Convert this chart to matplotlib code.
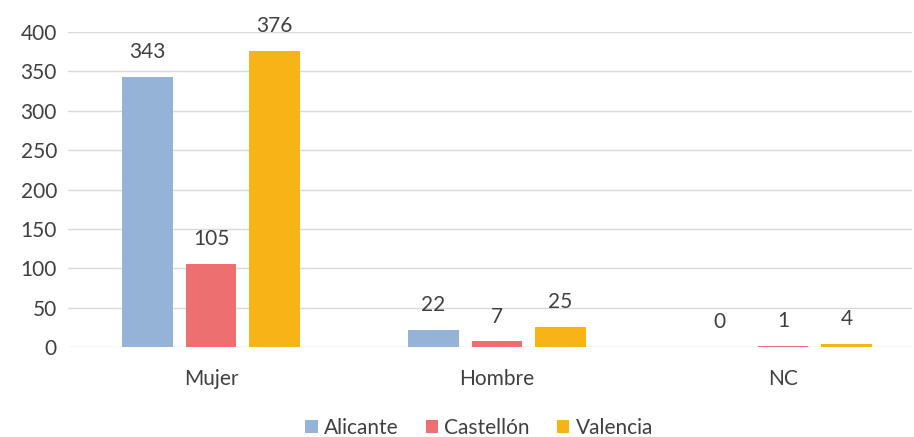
import matplotlib
matplotlib.use("Agg")
import matplotlib.pyplot as plt
import numpy as np

categories = ["Mujer", "Hombre", "NC"]
series = ["Alicante", "Castellón", "Valencia"]
alicante = [343, 22, 0]
castellon = [105, 7, 1]
valencia = [376, 25, 4]
yticks = [0, 50, 100, 150, 200, 250, 300, 350, 400]

colors = ["#95B3D7", "#EE6F6F", "#F8B417"]
txt = "#404040"

plt.rcParams['font.family'] = ['Lato', 'DejaVu Sans']
fs = 15

fig = plt.figure(figsize=(9.14, 4.37), dpi=100)
ax = fig.add_axes([68/914, 1-347/437, (912-68)/914, (347-32)/437])

x = np.arange(len(categories))
w = 0.175
step = 0.222
data = [alicante, castellon, valencia]
for i, (name, vals) in enumerate(zip(series, data)):
    pos = x + (i - 1) * step
    bars = ax.bar(pos, vals, width=w, color=colors[i], label=name, zorder=3)
    for b, v in zip(bars, vals):
        ax.text(b.get_x() + b.get_width()/2, v + 19, str(v), ha='center', va='bottom',
                fontsize=fs, color=txt, clip_on=False)

ax.set_xlim(-0.5, 2.451)
ax.set_ylim(0, 400)
ax.set_yticks(yticks)
ax.set_xticks(x)
ax.set_xticklabels(categories)
ax.grid(axis='y', color='#D9D9D9', linewidth=1, zorder=0)
for s in ax.spines.values():
    s.set_visible(False)
ax.tick_params(axis='both', length=0, labelsize=fs, labelcolor=txt)
ax.tick_params(axis='x', pad=16)
ax.tick_params(axis='y', pad=8)

fig.legend(loc='center', bbox_to_anchor=(479/914, 1-428/437), ncol=3, frameon=False,
           fontsize=fs, handlelength=0.6, handleheight=0.6, handletextpad=0.3,
           columnspacing=1.3, labelcolor=txt)

fig.savefig("out.png", dpi=100)
